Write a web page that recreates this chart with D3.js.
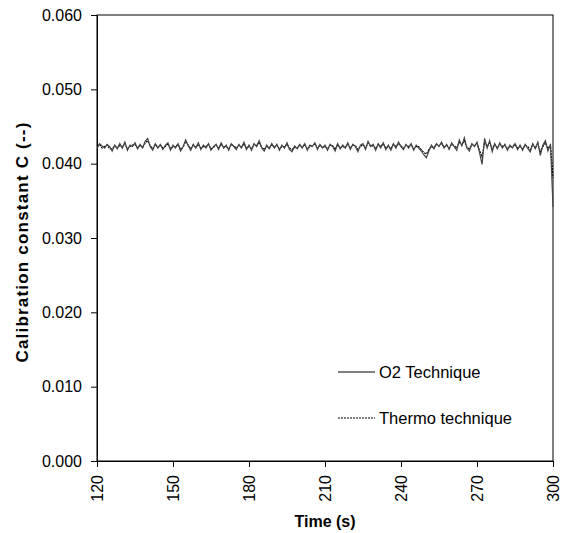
<!DOCTYPE html>
<html>
<head>
<meta charset="utf-8">
<script src="https://cdn.jsdelivr.net/npm/d3@7"></script>
<style>
  body { margin: 0; background: #fff; }
  text { font-family: Arial, "Liberation Sans", sans-serif; fill: #000; }
</style>
</head>
<body>
<svg id="chart"></svg>
<script>
// time axis, one reading per second
const times = d3.range(120, 301, 1);

const o2Values = [
  0.0420, 0.0427, 0.0424, 0.0421, 0.0426, 0.0423, 0.0417, 0.0425, 0.0420, 0.0427,
  0.0421, 0.0429, 0.0418, 0.0425, 0.0423, 0.0428, 0.0420, 0.0426, 0.0421, 0.0430,
  0.0434, 0.0423, 0.0418, 0.0427, 0.0421, 0.0426, 0.0419, 0.0425, 0.0428, 0.0418,
  0.0425, 0.0421, 0.0427, 0.0417, 0.0423, 0.0432, 0.0424, 0.0418, 0.0426, 0.0421,
  0.0428, 0.0419, 0.0425, 0.0421, 0.0427, 0.0418, 0.0423, 0.0426, 0.0419, 0.0428,
  0.0421, 0.0425, 0.0418, 0.0427, 0.0423, 0.0419, 0.0426, 0.0421, 0.0429, 0.0419,
  0.0425, 0.0418, 0.0427, 0.0423, 0.0431, 0.0421, 0.0417, 0.0425, 0.0420, 0.0427,
  0.0421, 0.0426, 0.0418, 0.0425, 0.0421, 0.0428, 0.0419, 0.0416, 0.0424, 0.0420,
  0.0426, 0.0421, 0.0427, 0.0418, 0.0425, 0.0423, 0.0428, 0.0419, 0.0426, 0.0421,
  0.0425, 0.0418, 0.0426, 0.0423, 0.0417, 0.0427, 0.0420, 0.0425, 0.0421, 0.0428,
  0.0419, 0.0426, 0.0423, 0.0416, 0.0425, 0.0427, 0.0419, 0.0430, 0.0423, 0.0426,
  0.0418, 0.0427, 0.0421, 0.0428, 0.0419, 0.0425, 0.0418, 0.0427, 0.0421, 0.0429,
  0.0423, 0.0419, 0.0426, 0.0421, 0.0427, 0.0418, 0.0425, 0.0421, 0.0417, 0.0412,
  0.0408, 0.0417, 0.0425, 0.0420, 0.0427, 0.0423, 0.0429, 0.0421, 0.0426, 0.0419,
  0.0428, 0.0423, 0.0418, 0.0432, 0.0424, 0.0435, 0.0421, 0.0417, 0.0427, 0.0423,
  0.0429, 0.0415, 0.0399, 0.0434, 0.0421, 0.0431, 0.0416, 0.0427, 0.0420, 0.0428,
  0.0421, 0.0426, 0.0418, 0.0425, 0.0421, 0.0427, 0.0419, 0.0425, 0.0418, 0.0426,
  0.0421, 0.0416, 0.0427, 0.0420, 0.0429, 0.0411, 0.0425, 0.0431, 0.0417, 0.0426,
  0.0342
];

const thermoValues = [
  0.0424, 0.0426, 0.0421, 0.0423, 0.0425, 0.0420, 0.0420, 0.0424, 0.0421, 0.0425,
  0.0422, 0.0427, 0.0420, 0.0423, 0.0425, 0.0426, 0.0421, 0.0425, 0.0422, 0.0428,
  0.0431, 0.0424, 0.0420, 0.0426, 0.0422, 0.0425, 0.0421, 0.0423, 0.0427, 0.0420,
  0.0423, 0.0423, 0.0426, 0.0419, 0.0422, 0.0430, 0.0425, 0.0420, 0.0425, 0.0422,
  0.0426, 0.0421, 0.0423, 0.0423, 0.0426, 0.0420, 0.0422, 0.0425, 0.0421, 0.0426,
  0.0423, 0.0423, 0.0420, 0.0426, 0.0424, 0.0421, 0.0425, 0.0422, 0.0427, 0.0421,
  0.0423, 0.0420, 0.0426, 0.0424, 0.0429, 0.0422, 0.0419, 0.0423, 0.0421, 0.0426,
  0.0422, 0.0425, 0.0420, 0.0423, 0.0423, 0.0426, 0.0421, 0.0419, 0.0422, 0.0421,
  0.0425, 0.0422, 0.0426, 0.0420, 0.0423, 0.0424, 0.0427, 0.0421, 0.0425, 0.0422,
  0.0423, 0.0420, 0.0425, 0.0424, 0.0419, 0.0426, 0.0421, 0.0423, 0.0422, 0.0426,
  0.0421, 0.0425, 0.0424, 0.0419, 0.0423, 0.0426, 0.0421, 0.0428, 0.0424, 0.0424,
  0.0420, 0.0426, 0.0423, 0.0427, 0.0421, 0.0423, 0.0420, 0.0426, 0.0423, 0.0427,
  0.0424, 0.0421, 0.0425, 0.0423, 0.0426, 0.0420, 0.0423, 0.0423, 0.0419, 0.0415,
  0.0413, 0.0419, 0.0423, 0.0421, 0.0426, 0.0424, 0.0427, 0.0422, 0.0425, 0.0421,
  0.0426, 0.0424, 0.0421, 0.0429, 0.0425, 0.0431, 0.0422, 0.0420, 0.0426, 0.0424,
  0.0427, 0.0418, 0.0409, 0.0429, 0.0423, 0.0428, 0.0420, 0.0426, 0.0421, 0.0426,
  0.0423, 0.0425, 0.0420, 0.0423, 0.0423, 0.0426, 0.0421, 0.0423, 0.0420, 0.0425,
  0.0423, 0.0419, 0.0426, 0.0421, 0.0427, 0.0416, 0.0423, 0.0428, 0.0420, 0.0425,
  0.0381
];

const xTicks = [120, 150, 180, 210, 240, 270, 300];
const yTicks = [0, 0.01, 0.02, 0.03, 0.04, 0.05, 0.06];
const seriesNames = ['O2 Technique', 'Thermo technique'];

const width = 564;
const height = 533;
const margin = { top: 15, right: 11, bottom: 72, left: 97 };
const innerW = width - margin.left - margin.right;
const innerH = height - margin.top - margin.bottom;

const svg = d3.select('#chart')
  .attr('width', width)
  .attr('height', height);

const g = svg.append('g')
  .attr('transform', `translate(${margin.left},${margin.top})`);

const x = d3.scaleLinear().domain([120, 300]).range([0, innerW]);
const y = d3.scaleLinear().domain([0, 0.06]).range([innerH, 0]);

// frame (top and right edges)
g.append('rect')
  .attr('width', innerW)
  .attr('height', innerH)
  .attr('fill', 'none')
  .attr('stroke', '#000')
  .attr('stroke-width', 1);

const yAxis = g.append('g')
  .call(d3.axisLeft(y).tickValues(yTicks).tickFormat(d3.format('.3f')).tickSize(6).tickPadding(9));
yAxis.selectAll('text').style('font-size', '16px');

const xAxis = g.append('g')
  .attr('transform', `translate(0,${innerH})`)
  .call(d3.axisBottom(x).tickValues(xTicks).tickFormat(d3.format('d')).tickSize(6).tickPadding(8));
xAxis.selectAll('text')
  .style('font-size', '16px')
  .attr('transform', 'rotate(-90)')
  .attr('text-anchor', 'end')
  .attr('dy', '0.35em')
  .attr('x', -14)
  .attr('y', 0);

g.selectAll('.domain, .tick line').attr('stroke', '#000');

const line = (vals) => d3.line()
  .x((d, i) => x(times[i]))
  .y(d => y(d))(vals);

g.append('path')
  .attr('d', line(thermoValues))
  .attr('fill', 'none')
  .attr('stroke', '#000')
  .attr('stroke-width', 1.2)
  .attr('stroke-dasharray', '2,1');

g.append('path')
  .attr('d', line(o2Values))
  .attr('fill', 'none')
  .attr('stroke', '#444')
  .attr('stroke-width', 1.2);

// axis titles
svg.append('text')
  .attr('x', margin.left + innerW / 2)
  .attr('y', 527)
  .attr('text-anchor', 'middle')
  .style('font-size', '16px')
  .style('font-weight', 'bold')
  .text('Time (s)');

svg.append('text')
  .attr('transform', `translate(28,${margin.top + innerH / 2 + 4}) rotate(-90)`)
  .attr('text-anchor', 'middle')
  .style('font-size', '17px')
  .style('font-weight', 'bold')
  .style('letter-spacing', '1.2px')
  .text('Calibration constant C (--)');

// legend
const legend = svg.append('g').attr('transform', 'translate(338,372)');
seriesNames.forEach((name, i) => {
  const row = legend.append('g').attr('transform', `translate(0,${i * 46})`);
  row.append('line')
    .attr('x1', 0).attr('x2', 37)
    .attr('stroke', '#000')
    .attr('stroke-width', 1)
    .attr('stroke-dasharray', i === 1 ? '2,1' : null);
  row.append('text')
    .attr('x', 41)
    .attr('dy', '0.35em')
    .style('font-size', '16.5px')
    .text(name);
});
</script>
</body>
</html>
